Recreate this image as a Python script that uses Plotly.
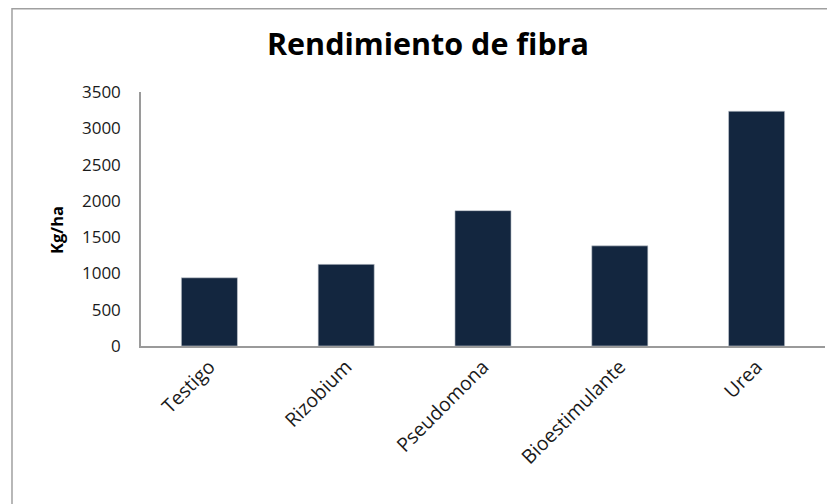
import plotly.graph_objs as go

categories = ["Testigo", "Rizobium", "Pseudomona", "Bioestimulante", "Urea"]
rendimiento = [940, 1125, 1865, 1380, 3235]
y_ticks = [0, 500, 1000, 1500, 2000, 2500, 3000, 3500]

fig = go.Figure(go.Bar(x=categories, y=rendimiento, marker_color="#13263f",
                       marker_line=dict(color="#c8ccd4", width=0.6)))

# page body adds an 8px offset, margins are set to compensate
fig.update_layout(
    width=835, height=504,
    margin=dict(l=133, r=18, t=84, b=166),
    paper_bgcolor="white", plot_bgcolor="white",
    bargap=0.59,
    showlegend=False,
    title=dict(text="<b>Rendimiento de fibra</b>", x=0.503, xanchor="center",
               y=0.927, yanchor="middle",
               font=dict(family="Open Sans", size=30.5, color="black")),
    font=dict(family="Open Sans", color="black"),
)
fig.update_yaxes(range=[0, 3500], tickvals=y_ticks, showgrid=False,
                 showline=True, linecolor="#9a9a9a", linewidth=1.5,
                 ticks="", tickfont=dict(size=17, color="#1a1a1a"),
                 ticklabelstandoff=15)
fig.update_xaxes(showline=True, linecolor="#9a9a9a", linewidth=1.5, ticks="",
                 tickangle=-45, tickfont=dict(size=19.5, color="#1a1a1a"))

# y title as annotation, Excel centres it a bit below the plot middle
fig.add_annotation(text="<b>Kg/ha</b>", textangle=-90, xref="paper", yref="paper",
                   x=-0.1228, y=0.457, xanchor="center", yanchor="middle",
                   showarrow=False, font=dict(size=16.5, color="black"))

# outer chart border
fig.add_shape(type="rect", xref="paper", yref="paper",
              x0=-0.1886, x1=1.05, y0=-0.8, y1=1.328,
              line=dict(color="#a0a0a0", width=1.5))

fig.write_html("out.html")
